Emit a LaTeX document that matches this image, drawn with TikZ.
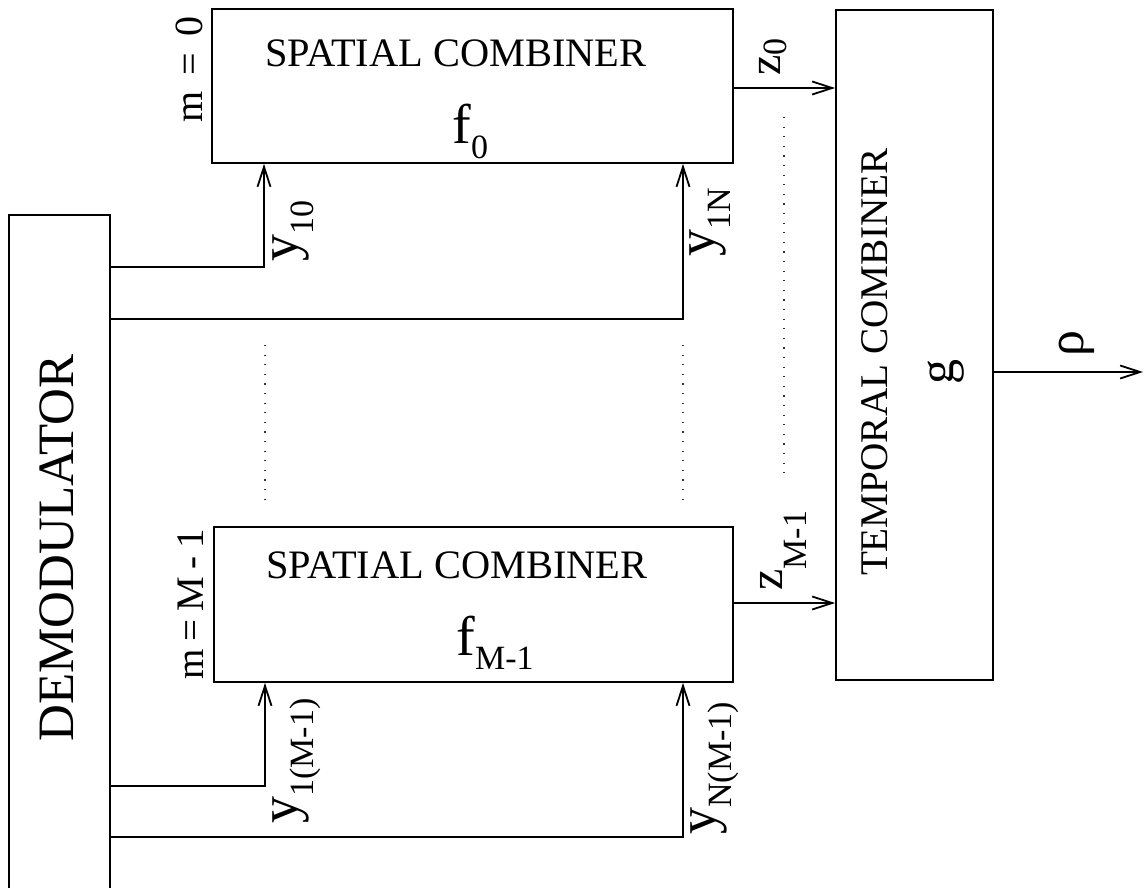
\documentclass[tikz,border=0pt]{standalone}
\usepackage{fontspec}
\setmainfont{Liberation Serif}
\usetikzlibrary{arrows.meta,fit}
\newcommand{\fsz}[1]{\fontsize{#1}{#1}\selectfont}
\newcommand{\lsub}[1]{\raisebox{-0.3em}{\fsz{17pt}#1}}
\newcommand{\zsub}[2]{\raisebox{#1}{\fsz{17pt}#2}}
\begin{document}
\begin{tikzpicture}[x=0.5pt,y=-0.5pt,
  box/.style={draw, line width=0.9pt, inner sep=0pt},
  wire/.style={line width=0.9pt},
  arr/.style={wire, -{Straight Barb[length=10pt,width=6.5pt,line width=0.9pt]}},
  dots/.style={line width=0.8pt, dash pattern=on 0.6pt off 4.2pt, black!80},
  vlab/.style={rotate=90, inner sep=0pt, anchor=base west, font=\fsz{27pt}},
  capt/.style={inner sep=0pt, font=\fsz{20.2pt}},
  fn/.style={inner sep=0pt, font=\fsz{28pt}},
]
\useasboundingbox (0,0) rectangle (1146,888);

% boxes
\node[box, fit={(9,215) (110,895)}] (demod) {};
\node[box, fit={(212,9) (733,163)}] (sc0) {};
\node[box, fit={(214,527) (733,682)}] (sc1) {};
\node[box, fit={(836,10) (993,680)}] (tc) {};

% box texts
\node[rotate=90, inner sep=0pt, font=\fsz{25.5pt}] (demodtxt) at (57,548) {DEMODULATOR};
\node[capt, anchor=base] (sc0txt) at (456,67) {SPATIAL COMBINER};
\node[fn, anchor=base west] (f0) at (452,143) {f\raisebox{-0.28em}{\fsz{17pt}0}};
\node[capt, anchor=base] (sc1txt) at (457,578) {SPATIAL COMBINER};
\node[fn, anchor=base west] (f1) at (456,655) {f\raisebox{-0.25em}{\fsz{17pt}M-1}};
\node[rotate=90, inner sep=0pt, font=\fsz{19.6pt}] (tctxt) at (875,362) {TEMPORAL COMBINER};
\node[rotate=90, inner sep=0pt, font=\fsz{25pt}] (g) at (946,372) {g};

% index labels
\node[vlab, font=\fsz{20pt}] (m0) at (202,123) {m\hspace{0.4em}=\hspace{0.4em}0};
\node[vlab, font=\fsz{19.5pt}] (m1) at (203,680) {m\hspace{0.2em}=\hspace{0.2em}M\hspace{0.2em}-\hspace{0.2em}1};

% tap points
\coordinate (a1) at (264,267);
\coordinate (a2) at (683,319);
\coordinate (a3) at (265,786);
\coordinate (a4) at (683,837);
\coordinate (zc0) at (0,88);
\coordinate (zc1) at (0,603);
\coordinate (rc) at (1143,372);
\coordinate (rend) at (1143,372);

% connectors
\draw[arr] (demod.east |- a1) -| (sc0.south -| a1);
\draw[arr] (demod.east |- a2) -| (sc0.south -| a2);
\draw[arr] (demod.east |- a3) -| (sc1.south -| a3);
\draw[arr] (demod.east |- a4) -| (sc1.south -| a4);
\draw[arr] (sc0.east |- zc0) -- (tc.west |- zc0);
\draw[arr] (sc1.east |- zc1) -- (tc.west |- zc1);
\draw[arr] (tc.east |- rc) -- (rend);

% signal labels
\node[vlab] (y10) at (297,262) {y\lsub{10}};
\node[vlab] (y1N) at (714,257) {y\lsub{1N}};
\node[vlab] (y1M) at (297,824) {y\lsub{1(M-1)}};
\node[vlab] (yNM) at (715,835) {y\lsub{N(M-1)}};
\node[vlab, font=\fsz{23pt}] (z0) at (780,76) {z\zsub{-0.15em}{0}};
\node[vlab, font=\fsz{24pt}] (zM) at (782,591) {z\zsub{-0.5em}{M-1}};
\node[rotate=90, inner sep=0pt, font=\fsz{26pt}] (rho) at (1077,344) {ρ};

% dotted continuation lines
\coordinate (d1a) at (265,345); \coordinate (d1b) at (265,500);
\coordinate (d2a) at (683,345); \coordinate (d2b) at (683,500);
\coordinate (d3a) at (784,117); \coordinate (d3b) at (784,475);
\draw[dots] (d1a) -- (d1b);
\draw[dots] (d2a) -- (d2b);
\draw[dots] (d3a) -- (d3b);
\end{tikzpicture}
\end{document}
